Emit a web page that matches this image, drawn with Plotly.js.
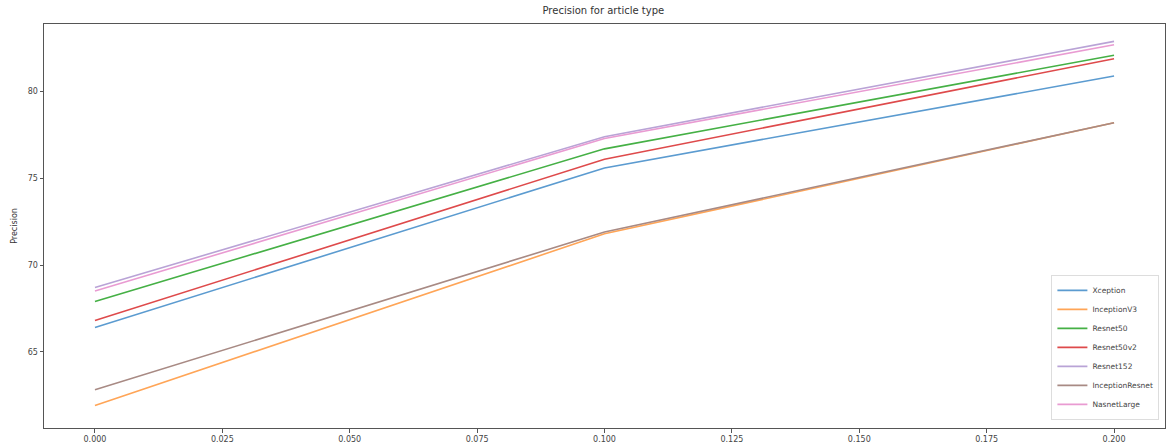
<!DOCTYPE html>
<html>
<head>
<meta charset="utf-8">
<script src="https://cdn.plot.ly/plotly-3.0.1.min.js"></script>
<style>html,body{margin:0;padding:0;background:#fff;}#chart{width:1167px;height:448px;}</style>
</head>
<body>
<div id="chart"></div>
<script>
const xValues = [0.0, 0.1, 0.2];
const seriesNames = ["Xception", "InceptionV3", "Resnet50", "Resnet50v2", "Resnet152", "InceptionResnet", "NasnetLarge"];
const xception = [66.4, 75.6, 80.9];
const inceptionV3 = [61.9, 71.8, 78.2];
const resnet50 = [67.9, 76.7, 82.1];
const resnet50v2 = [66.8, 76.1, 81.9];
const resnet152 = [68.7, 77.4, 82.9];
const inceptionResnet = [62.8, 71.9, 78.2];
const nasnetLarge = [68.5, 77.3, 82.7];
const seriesValues = [xception, inceptionV3, resnet50, resnet50v2, resnet152, inceptionResnet, nasnetLarge];
const colors = ["#5b9bd0", "#ffa557", "#45b045", "#de4a4b", "#b9a3d6", "#a88a84", "#e99bd2"];

const traces = seriesNames.map((name, i) => ({
  x: xValues,
  y: seriesValues[i],
  name: name,
  type: "scatter",
  mode: "lines",
  line: {color: colors[i], width: 1.6}
}));

const axisCommon = {
  showgrid: false,
  zeroline: false,
  showline: true,
  mirror: true,
  linecolor: "#555",
  linewidth: 1,
  ticks: "outside",
  ticklen: 3.5,
  tickcolor: "#555",
  tickfont: {family: "DejaVu Sans, sans-serif", size: 8, color: "#444"}
};

const layout = {
  width: 1167,
  height: 448,
  margin: {l: 44, r: 2, t: 24, b: 20},
  paper_bgcolor: "#fff",
  plot_bgcolor: "#fff",
  title: {text: "Precision for article type", x: 0.517, xanchor: "center", y: 0.985, yanchor: "top",
          font: {family: "DejaVu Sans, sans-serif", size: 10, color: "#333"}},
  xaxis: Object.assign({}, axisCommon, {
    range: [-0.01, 0.21],
    tick0: 0,
    dtick: 0.025,
    tickformat: ".3f"
  }),
  yaxis: Object.assign({}, axisCommon, {
    range: [60.6, 83.9],
    tick0: 65,
    dtick: 5,
    title: {text: "Precision", standoff: 8, font: {family: "DejaVu Sans, sans-serif", size: 8, color: "#333"}}
  }),
  showlegend: true,
  legend: {
    x: 0.995, y: 0.02, xanchor: "right", yanchor: "bottom",
    bgcolor: "rgba(255,255,255,0.9)",
    bordercolor: "#ddd",
    borderwidth: 1,
    font: {family: "DejaVu Sans, sans-serif", size: 7.5, color: "#444"},
    tracegroupgap: 0,
    itemwidth: 30
  }
};

Plotly.newPlot("chart", traces, layout, {displayModeBar: false, staticPlot: true});
</script>
</body>
</html>
